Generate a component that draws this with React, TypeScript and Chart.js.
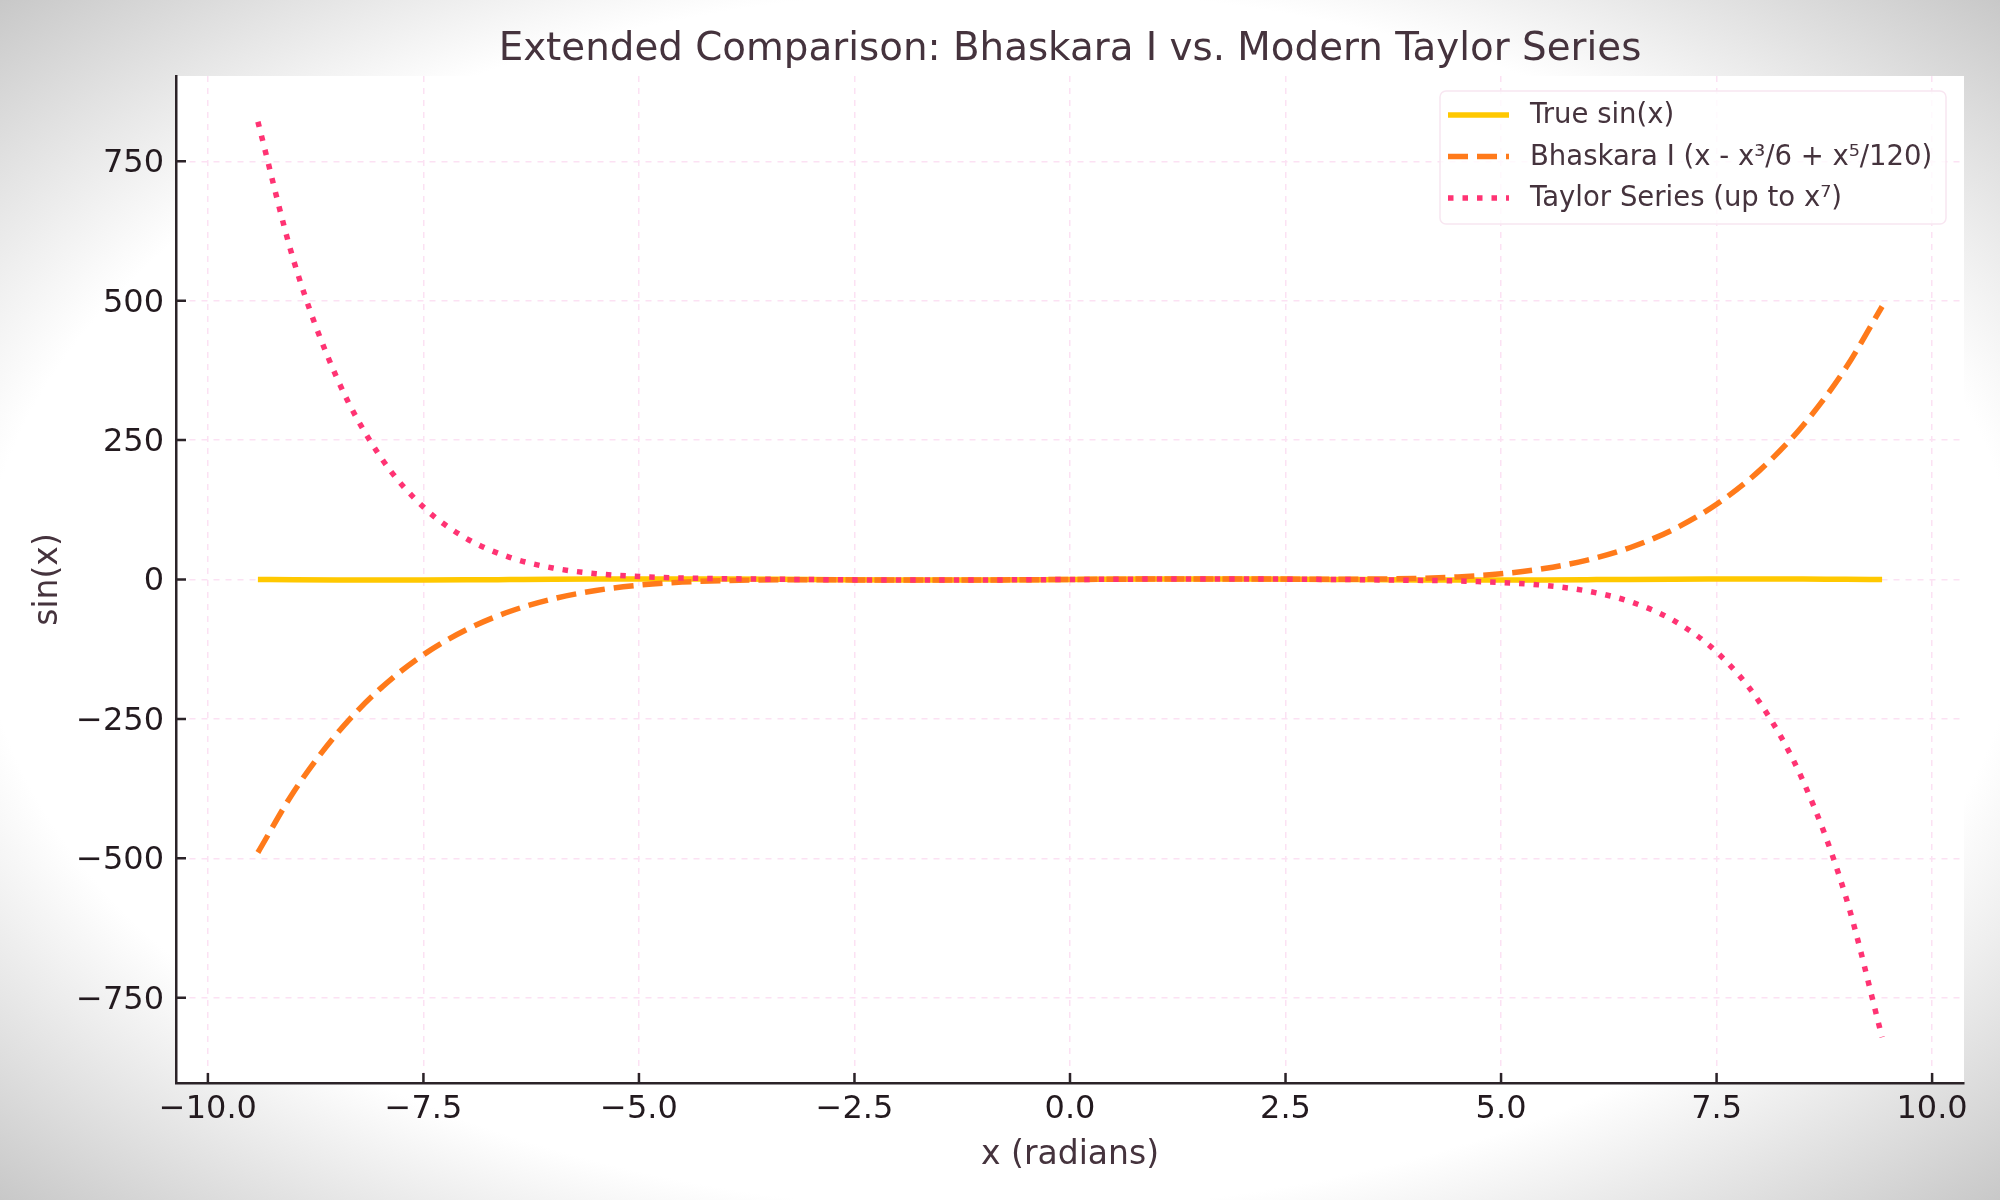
import { useEffect, useRef } from "react";
import { Chart, registerables } from "chart.js";

Chart.register(...registerables);

// values
const xValues = [-9.42, -9, -8.5, -8, -7.5, -7, -6.5, -6, -5.5, -5, -4.5, -4, -3, -2, -1, 0, 1, 2, 3, 4, 4.5, 5, 5.5, 6, 6.5, 7, 7.5, 8, 8.5, 9, 9.42];
const trueSin = [0, -0.41, -0.8, -0.99, -0.94, -0.66, -0.22, 0.28, 0.71, 0.96, 0.98, 0.76, -0.14, -0.91, -0.84, 0, 0.84, 0.91, 0.14, -0.76, -0.98, -0.96, -0.71, -0.28, 0.22, 0.66, 0.94, 0.99, 0.8, 0.41, 0];
const bhaskara = [-489.6, -379.6, -275.9, -195.7, -134.9, -89.9, -57.4, -34.8, -19.7, -10.2, -4.7, -1.9, -0.5, -0.9, -0.8, 0, 0.8, 0.9, 0.5, 1.9, 4.7, 10.2, 19.7, 34.8, 57.4, 89.9, 134.9, 195.7, 275.9, 379.6, 489.6];
const taylor = [821, 569.4, 360.2, 220.4, 129.9, 73.5, 39.8, 20.7, 10.5, 5.3, 2.7, 1.4, -0.1, -0.9, -0.8, 0, 0.8, 0.9, 0.1, -1.4, -2.7, -5.3, -10.5, -20.7, -39.8, -73.5, -129.9, -220.4, -360.2, -569.4, -821];

const seriesLabels = ["True sin(x)", "Bhaskara I (x - x³/6 + x⁵/120)", "Taylor Series (up to x⁷)"];
const xTicks = [-10, -7.5, -5, -2.5, 0, 2.5, 5, 7.5, 10];
const yTicks = [-750, -500, -250, 0, 250, 500, 750];

const TITLE = "Extended Comparison: Bhaskara I vs. Modern Taylor Series";
const X_LABEL = "x (radians)";
const Y_LABEL = "sin(x)";

const YELLOW = "#ffc800";
const ORANGE = "#ff7a1a";
const PINK = "#ff3373";
const SPINE = "#2b2328";
const TEXT = "#45333d";
const TICK_TEXT = "#231a1f";
const GRID = "#fce1f3";
const FONT = "'DejaVu Sans', sans-serif";
const LW = 5.5;
const DASHED = [20, 9];
const DOTTED = [5.5, 9];

const toPoints = (ys: number[]) => xValues.map((x, i) => ({ x, y: ys[i] }));
const minus = (s: string) => s.replace("-", "\u2212");

const decorations = {
    id: "decorations",
    beforeDraw(chart: Chart) {
        const { ctx, chartArea } = chart;
        ctx.save();
        ctx.fillStyle = "#ffffff";
        ctx.fillRect(chartArea.left, chartArea.top, chartArea.right - chartArea.left, chartArea.bottom - chartArea.top);
        ctx.restore();
    },
    afterDraw(chart: Chart) {
        const { ctx, chartArea } = chart;
        const xs = chart.scales.x;
        const ys = chart.scales.y;
        ctx.save();

        // title
        ctx.fillStyle = TEXT;
        ctx.font = `38.8px ${FONT}`;
        ctx.textAlign = "center";
        ctx.textBaseline = "alphabetic";
        ctx.fillText(TITLE, (chartArea.left + chartArea.right) / 2, 60);

        // tick marks point inward
        ctx.strokeStyle = SPINE;
        ctx.lineWidth = 2.5;
        ctx.beginPath();
        xTicks.forEach((v) => {
            const px = xs.getPixelForValue(v);
            ctx.moveTo(px, chartArea.bottom);
            ctx.lineTo(px, chartArea.bottom - 10);
        });
        yTicks.forEach((v) => {
            const py = ys.getPixelForValue(v);
            ctx.moveTo(chartArea.left, py);
            ctx.lineTo(chartArea.left + 10, py);
        });
        ctx.stroke();

        // legend box
        const bx = 1440, by = 91, bw = 506, bh = 133;
        ctx.beginPath();
        ctx.roundRect(bx, by, bw, bh, 6);
        ctx.fillStyle = "rgba(255,255,255,0.8)";
        ctx.fill();
        ctx.strokeStyle = "#f8e6f1";
        ctx.lineWidth = 1.5;
        ctx.stroke();

        const rows = [
            { color: YELLOW, dash: [] as number[] },
            { color: ORANGE, dash: DASHED },
            { color: PINK, dash: DOTTED },
        ];
        ctx.font = `27.5px ${FONT}`;
        ctx.textAlign = "left";
        ctx.textBaseline = "middle";
        rows.forEach((r, i) => {
            const cy = 115 + i * 41.5;
            ctx.beginPath();
            ctx.setLineDash(r.dash);
            ctx.strokeStyle = r.color;
            ctx.lineWidth = LW;
            ctx.moveTo(1448, cy);
            ctx.lineTo(1509, cy);
            ctx.stroke();
            ctx.setLineDash([]);
            ctx.fillStyle = TEXT;
            ctx.fillText(seriesLabels[i], 1530, cy + 1);
        });
        ctx.restore();
    },
};

export default function App() {
    const canvasRef = useRef<HTMLCanvasElement | null>(null);

    useEffect(() => {
        if (!canvasRef.current) {
            return;
        }

        const chart = new Chart(canvasRef.current, {
            type: "line",
            data: {
                datasets: [
                    {
                        label: seriesLabels[0],
                        data: toPoints(trueSin),
                        borderColor: YELLOW,
                        borderWidth: LW,
                        pointRadius: 0,
                        cubicInterpolationMode: "monotone",
                        order: 3,
                    },
                    {
                        label: seriesLabels[1],
                        data: toPoints(bhaskara),
                        borderColor: ORANGE,
                        borderWidth: LW,
                        borderDash: DASHED,
                        pointRadius: 0,
                        cubicInterpolationMode: "monotone",
                        order: 2,
                    },
                    {
                        label: seriesLabels[2],
                        data: toPoints(taylor),
                        borderColor: PINK,
                        borderWidth: LW,
                        borderDash: DOTTED,
                        pointRadius: 0,
                        cubicInterpolationMode: "monotone",
                        order: 1,
                    },
                ],
            },
            options: {
                responsive: false,
                animation: false,
                devicePixelRatio: 1,
                layout: { padding: { top: 76, right: 36, left: 0, bottom: 0 } },
                plugins: {
                    legend: { display: false },
                    title: { display: false },
                    tooltip: { enabled: false },
                },
                scales: {
                    x: {
                        type: "linear",
                        min: -10.37,
                        max: 10.37,
                        afterBuildTicks: (scale: any) => {
                            scale.ticks = xTicks.map((value) => ({ value }));
                        },
                        afterFit: (scale: any) => {
                            scale.height = 117;
                        },
                        ticks: {
                            autoSkip: false,
                            maxRotation: 0,
                            padding: 7,
                            color: TICK_TEXT,
                            font: { family: FONT, size: 32 },
                            callback: (v: any) => minus(Number(v).toFixed(1)),
                        },
                        grid: { color: GRID, lineWidth: 1.5, drawTicks: false },
                        border: { color: SPINE, width: 2.5, dash: [6, 6] },
                        title: {
                            display: true,
                            text: X_LABEL,
                            color: TEXT,
                            font: { family: FONT, size: 33 },
                            padding: { top: 0, bottom: 25 },
                        },
                    },
                    y: {
                        type: "linear",
                        min: -903,
                        max: 903,
                        afterBuildTicks: (scale: any) => {
                            scale.ticks = yTicks.map((value) => ({ value }));
                        },
                        afterFit: (scale: any) => {
                            scale.width = 176;
                        },
                        ticks: {
                            autoSkip: false,
                            padding: 12,
                            labelOffset: 2.5,
                            color: TICK_TEXT,
                            font: { family: FONT, size: 32 },
                            callback: (v: any) => minus(String(v)),
                        },
                        grid: { color: GRID, lineWidth: 1.5, drawTicks: false },
                        border: { color: SPINE, width: 2.5, dash: [6, 6] },
                        title: {
                            display: true,
                            text: Y_LABEL,
                            color: TEXT,
                            font: { family: FONT, size: 33 },
                            padding: { top: 29, bottom: 0 },
                        },
                    },
                },
            },
            plugins: [decorations],
        });

        return () => chart.destroy();
    }, []);

    return (
        <div
            style={{
                position: "absolute",
                left: 0,
                top: 0,
                width: 2000,
                height: 1200,
                background: "radial-gradient(ellipse farthest-corner at center, #ffffff 0%, #ffffff 72%, #c8c8c8 100%)",
            }}
        >
            <canvas ref={canvasRef} width={2000} height={1200} />
        </div>
    );
}
